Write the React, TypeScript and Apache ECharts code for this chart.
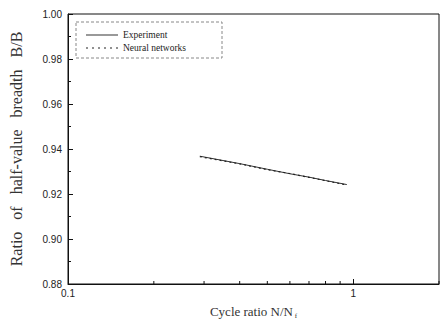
import React, { useEffect, useRef } from "react";
import * as echarts from "echarts";

const cycleRatio = [0.29, 0.4, 0.5, 0.6, 0.7, 0.8, 0.95];
const experiment = [0.9368, 0.9335, 0.931, 0.929, 0.9275, 0.926, 0.9242];
const neuralNet = [0.9366, 0.9334, 0.9308, 0.9291, 0.9274, 0.9259, 0.9240];
const xMinorTicks = [0.2, 0.3, 0.4, 0.5, 0.6, 0.7, 0.8, 0.9, 2];
const yTickLabels = ["0.88", "0.90", "0.92", "0.94", "0.96", "0.98", "1.00"];
const seriesNames = ["Experiment", "Neural networks"];

const solidIcon = "path://M0,0h32v1h-32z";
const dottedIcon = "path://M0,0h2v1h-2zM6,0h2v1h-2zM12,0h2v1h-2zM18,0h2v1h-2zM24,0h2v1h-2zM30,0h2v1h-2z";

export default function App() {
  const ref = useRef<HTMLDivElement>(null);
  useEffect(() => {
    if (!ref.current) return;
    const chart = echarts.init(ref.current, null, { renderer: "svg" });
    const serif = "Liberation Serif";
    const sans = "Liberation Sans";
    chart.setOption({
      animation: false,
      backgroundColor: "#fff",
      grid: {
        left: 66, right: 5, top: 14, bottom: 44,
        show: true, borderColor: "#111", borderWidth: 1, backgroundColor: "transparent",
      },
      legend: {
        orient: "vertical",
        left: 81, top: 25,
        itemWidth: 32, itemHeight: 1, itemGap: 3,
        data: [
          { name: seriesNames[0], icon: solidIcon },
          { name: seriesNames[1], icon: dottedIcon },
        ],
        textStyle: { fontFamily: serif, fontSize: 9.5, color: "#222" },
      },
      xAxis: {
        type: "log",
        logBase: 10,
        min: 0.1,
        max: 2,
        name: "Cycle ratio N/N{s| f}",
        nameLocation: "middle",
        nameGap: 20,
        nameTextStyle: {
          fontFamily: serif, fontSize: 13, color: "#333",
          rich: { s: { fontFamily: serif, fontSize: 7, color: "#333", verticalAlign: "bottom", padding: [8, 0, 0, 0] } },
        },
        axisLine: { show: true, lineStyle: { color: "#111" } },
        axisTick: { show: true, inside: true, length: 5, lineStyle: { color: "#111" } },
        axisLabel: {
          fontFamily: sans, fontSize: 10, color: "#222", margin: 4,
          showMaxLabel: false,
          formatter: (v: number) => (Math.abs(v - 0.1) < 1e-6 ? "0.1" : Math.abs(v - 1) < 1e-6 ? "1" : ""),
        },
        splitLine: { show: false },
      },
      yAxis: {
        type: "value",
        min: 0.88,
        max: 1.0,
        interval: 0.02,
        name: "Ratio   of   half-value   breadth   B/B",
        nameLocation: "middle",
        nameGap: 44,
        nameTextStyle: { fontFamily: serif, fontSize: 16, color: "#333" },
        axisLine: { show: true, lineStyle: { color: "#111" } },
        axisTick: { show: true, inside: true, length: 5, lineStyle: { color: "#111" } },
        minorTick: { show: true, splitNumber: 2, length: 3, lineStyle: { color: "#111" } },
        axisLabel: {
          fontFamily: sans, fontSize: 10, color: "#222", margin: 6,
          formatter: (v: number) => {
            const idx = Math.round((v - 0.88) / 0.02);
            return yTickLabels[idx] ?? "";
          },
        },
        splitLine: { show: false },
      },
      series: [
        {
          name: seriesNames[0],
          type: "line",
          symbol: "none",
          data: cycleRatio.map((x, i) => [x, experiment[i]]),
          lineStyle: { color: "#333", width: 1, type: "solid" },
          itemStyle: { color: "#333" },
        },
        {
          name: seriesNames[1],
          type: "line",
          symbol: "none",
          data: cycleRatio.map((x, i) => [x, neuralNet[i]]),
          lineStyle: { color: "#222", width: 1.2, type: [2, 3] },
          itemStyle: { color: "#222" },
        },
        {
          type: "custom",
          silent: true,
          data: xMinorTicks.map((v) => [v, 0.88]),
          renderItem: (_p: any, api: any) => {
            const pt = api.coord([api.value(0), api.value(1)]);
            return {
              type: "line",
              shape: { x1: pt[0], y1: pt[1], x2: pt[0], y2: pt[1] - 3 },
              style: { stroke: "#111", lineWidth: 1 },
            };
          },
        },
      ],
      graphic: [
        {
          type: "rect",
          shape: { x: 76, y: 22, width: 146, height: 36 },
          style: { fill: "transparent", stroke: "#888", lineWidth: 1, lineDash: [3, 2] },
          z: 10,
        },
      ],
    });
    return () => chart.dispose();
  }, []);
  return <div ref={ref} style={{ width: 444, height: 328, position: "absolute", left: 0, top: 0 }} />;
}
